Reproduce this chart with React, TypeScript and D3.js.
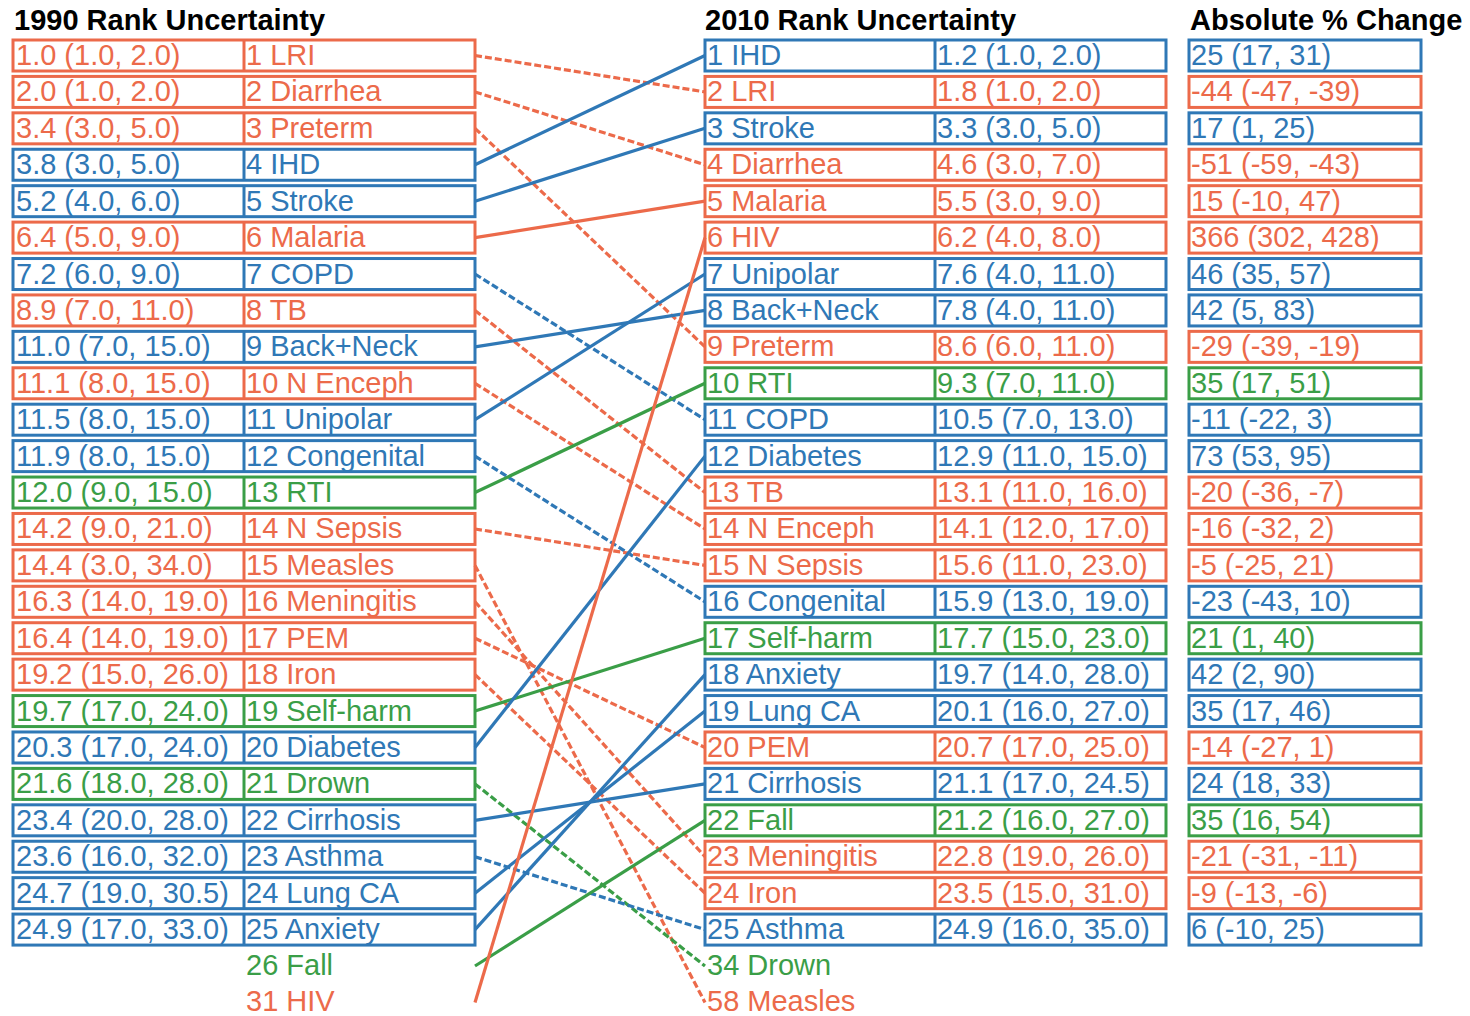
import React from "react";
import * as d3 from "d3";

// ---------- DATA ----------
const leftNames = [
  "LRI", "Diarrhea", "Preterm", "IHD", "Stroke", "Malaria", "COPD", "TB", "Back+Neck",
  "N Enceph", "Unipolar", "Congenital", "RTI", "N Sepsis", "Measles", "Meningitis", "PEM",
  "Iron", "Self-harm", "Diabetes", "Drown", "Cirrhosis", "Asthma", "Lung CA", "Anxiety",
  "Fall", "HIV",
];
const leftRanks = [1, 2, 3, 4, 5, 6, 7, 8, 9, 10, 11, 12, 13, 14, 15, 16, 17, 18, 19, 20, 21, 22, 23, 24, 25, 26, 31];
const leftUnc = [
  "1.0 (1.0, 2.0)", "2.0 (1.0, 2.0)", "3.4 (3.0, 5.0)", "3.8 (3.0, 5.0)", "5.2 (4.0, 6.0)",
  "6.4 (5.0, 9.0)", "7.2 (6.0, 9.0)", "8.9 (7.0, 11.0)", "11.0 (7.0, 15.0)", "11.1 (8.0, 15.0)",
  "11.5 (8.0, 15.0)", "11.9 (8.0, 15.0)", "12.0 (9.0, 15.0)", "14.2 (9.0, 21.0)", "14.4 (3.0, 34.0)",
  "16.3 (14.0, 19.0)", "16.4 (14.0, 19.0)", "19.2 (15.0, 26.0)", "19.7 (17.0, 24.0)", "20.3 (17.0, 24.0)",
  "21.6 (18.0, 28.0)", "23.4 (20.0, 28.0)", "23.6 (16.0, 32.0)", "24.7 (19.0, 30.5)", "24.9 (17.0, 33.0)",
];

const rightNames = [
  "IHD", "LRI", "Stroke", "Diarrhea", "Malaria", "HIV", "Unipolar", "Back+Neck", "Preterm",
  "RTI", "COPD", "Diabetes", "TB", "N Enceph", "N Sepsis", "Congenital", "Self-harm", "Anxiety",
  "Lung CA", "PEM", "Cirrhosis", "Fall", "Meningitis", "Iron", "Asthma", "Drown", "Measles",
];
const rightRanks = [1, 2, 3, 4, 5, 6, 7, 8, 9, 10, 11, 12, 13, 14, 15, 16, 17, 18, 19, 20, 21, 22, 23, 24, 25, 34, 58];
const rightUnc = [
  "1.2 (1.0, 2.0)", "1.8 (1.0, 2.0)", "3.3 (3.0, 5.0)", "4.6 (3.0, 7.0)", "5.5 (3.0, 9.0)",
  "6.2 (4.0, 8.0)", "7.6 (4.0, 11.0)", "7.8 (4.0, 11.0)", "8.6 (6.0, 11.0)", "9.3 (7.0, 11.0)",
  "10.5 (7.0, 13.0)", "12.9 (11.0, 15.0)", "13.1 (11.0, 16.0)", "14.1 (12.0, 17.0)", "15.6 (11.0, 23.0)",
  "15.9 (13.0, 19.0)", "17.7 (15.0, 23.0)", "19.7 (14.0, 28.0)", "20.1 (16.0, 27.0)", "20.7 (17.0, 25.0)",
  "21.1 (17.0, 24.5)", "21.2 (16.0, 27.0)", "22.8 (19.0, 26.0)", "23.5 (15.0, 31.0)", "24.9 (16.0, 35.0)",
];
const pctChange = [
  "25 (17, 31)", "-44 (-47, -39)", "17 (1, 25)", "-51 (-59, -43)", "15 (-10, 47)",
  "366 (302, 428)", "46 (35, 57)", "42 (5, 83)", "-29 (-39, -19)", "35 (17, 51)",
  "-11 (-22, 3)", "73 (53, 95)", "-20 (-36, -7)", "-16 (-32, 2)", "-5 (-25, 21)",
  "-23 (-43, 10)", "21 (1, 40)", "42 (2, 90)", "35 (17, 46)", "-14 (-27, 1)",
  "24 (18, 33)", "35 (16, 54)", "-21 (-31, -11)", "-9 (-13, -6)", "6 (-10, 25)",
];

const communicable = ["LRI", "Diarrhea", "Preterm", "Malaria", "TB", "N Enceph", "N Sepsis", "Measles", "Meningitis", "PEM", "Iron", "HIV"];
const injuries = ["RTI", "Self-harm", "Drown", "Fall"];

const titles = ["1990 Rank Uncertainty", "2010 Rank Uncertainty", "Absolute % Change"];

// ---------- STYLE ----------
const ORANGE = "#EC6A4A";
const BLUE = "#2F78B6";
const GREEN = "#3A9E47";
const colorOf = (name: string) =>
  communicable.includes(name) ? ORANGE : injuries.includes(name) ? GREEN : BLUE;

const W = 1470;
const H = 1016;
const FONT = "'Liberation Sans', Arial, Helvetica, sans-serif";
const FS = 29;
const BOX_H = 31;
const SW = 3;

const L = { x0: 13, x1: 475, div: 244 };
const M = { x0: 705, x1: 1166, div: 935 };
const R = { x0: 1189, x1: 1421 };

export default function App() {
  const y = d3.scaleLinear().domain([1, 27]).range([55.5, 55.5 + 26 * 36.42]);
  const nBoxed = 25;

  const leftPos = new Map<string, number>();
  leftNames.forEach((n, i) => leftPos.set(n, i + 1));
  const rightPos = new Map<string, number>();
  rightNames.forEach((n, i) => rightPos.set(n, i + 1));

  const line = d3.line<[number, number]>();

  const textBase = (pos: number) => y(pos) + 9.5;

  return (
    <svg
      width={W}
      height={H}
      viewBox={`0 0 ${W} ${H}`}
      style={{ position: "absolute", left: 0, top: 0, background: "#fff" }}
      fontFamily={FONT}
    >
      <rect x={0} y={0} width={W} height={H} fill="#fff" />
      {/* titles */}
      <text x={14} y={30} fontSize={29} fontWeight="bold" fill="#000">{titles[0]}</text>
      <text x={705} y={30} fontSize={29} fontWeight="bold" fill="#000">{titles[1]}</text>
      <text x={1190} y={30} fontSize={29} fontWeight="bold" fill="#000">{titles[2]}</text>

      {/* connecting lines */}
      {leftNames.map((n) => {
        const a = leftPos.get(n)!;
        const b = rightPos.get(n)!;
        const worse = b > a;
        return (
          <path
            key={"ln" + n}
            d={line([[L.x1, y(a)], [M.x0, y(b)]]) || ""}
            stroke={colorOf(n)}
            strokeWidth={3.2}
            strokeDasharray={worse ? "7,3" : undefined}
            fill="none"
          />
        );
      })}

      {/* left column */}
      {leftNames.map((n, i) => {
        const pos = i + 1;
        const c = colorOf(n);
        const boxed = i < nBoxed;
        return (
          <g key={"l" + n}>
            {boxed && (
              <>
                <rect x={L.x0} y={y(pos) - BOX_H / 2} width={L.x1 - L.x0} height={BOX_H} fill="none" stroke={c} strokeWidth={SW} />
                <line x1={L.div} x2={L.div} y1={y(pos) - BOX_H / 2} y2={y(pos) + BOX_H / 2} stroke={c} strokeWidth={SW} />
                <text x={L.x0 + 3} y={textBase(pos)} fontSize={FS} fill={c}>{leftUnc[i]}</text>
              </>
            )}
            <text x={L.div + 2} y={boxed ? textBase(pos) : y(pos) + 9} fontSize={FS} fill={c}>{`${leftRanks[i]} ${n}`}</text>
          </g>
        );
      })}

      {/* middle + right columns */}
      {rightNames.map((n, i) => {
        const pos = i + 1;
        const c = colorOf(n);
        const boxed = i < nBoxed;
        return (
          <g key={"r" + n}>
            {boxed && (
              <>
                <rect x={M.x0} y={y(pos) - BOX_H / 2} width={M.x1 - M.x0} height={BOX_H} fill="none" stroke={c} strokeWidth={SW} />
                <line x1={M.div} x2={M.div} y1={y(pos) - BOX_H / 2} y2={y(pos) + BOX_H / 2} stroke={c} strokeWidth={SW} />
                <text x={M.div + 2} y={textBase(pos)} fontSize={FS} fill={c}>{rightUnc[i]}</text>
                <rect x={R.x0} y={y(pos) - BOX_H / 2} width={R.x1 - R.x0} height={BOX_H} fill="none" stroke={c} strokeWidth={SW} />
                <text x={R.x0 + 2} y={textBase(pos)} fontSize={FS} fill={c}>{pctChange[i]}</text>
              </>
            )}
            <text x={M.x0 + 2} y={boxed ? textBase(pos) : y(pos) + 9} fontSize={FS} fill={c}>{`${rightRanks[i]} ${n}`}</text>
          </g>
        );
      })}
    </svg>
  );
}
